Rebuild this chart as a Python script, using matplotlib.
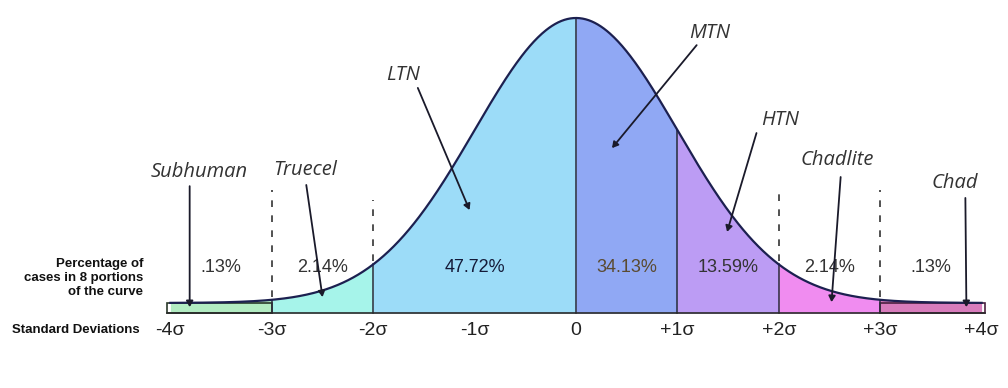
import numpy as np
import matplotlib
matplotlib.use("Agg")
import matplotlib.pyplot as plt
from matplotlib.patches import Rectangle

# ---- data ----
sd_ticks = [-4, -3, -2, -1, 0, 1, 2, 3, 4]
sd_labels = ["-4σ", "-3σ", "-2σ", "-1σ", "0", "+1σ", "+2σ", "+3σ", "+4σ"]
segments = [(-4, -3), (-3, -2), (-2, 0), (0, 1), (1, 2), (2, 3), (3, 4)]
seg_colors = ["#b2ecc2", "#a6f4ea", "#9cdcf8", "#90a8f4", "#bc9cf4", "#f08cf0", "#d87cbc"]
pct_x = [-3.5, -2.5, -1.0, 0.5, 1.5, 2.5, 3.5]
pct_labels = [".13%", "2.14%", "47.72%", "34.13%", "13.59%", "2.14%", ".13%"]
pct_colors = ["#333333", "#333333", "#141a38", "#5a4a30", "#333333", "#333333", "#333333"]
cat_names = ["Subhuman", "Truecel", "LTN", "MTN", "HTN", "Chadlite", "Chad"]
cat_text_xy = [(-3.72, 0.478), (-2.67, 0.485), (-1.71, 0.807), (1.32, 0.949),
               (2.01, 0.654), (2.58, 0.519), (3.74, 0.441)]
cat_arrow_from = [(-3.81, 0.43), (-2.66, 0.434), (-1.56, 0.763), (1.19, 0.908),
                  (1.78, 0.61), (2.61, 0.461), (3.84, 0.39)]
cat_arrow_to = [(-3.81, 0.02), (-2.50, 0.054), (-1.05, 0.349), (0.355, 0.559),
                (1.49, 0.275), (2.52, 0.037), (3.85, 0.02)]
dashed_x = [-3, -2, 2, 3]
dashed_top = [0.417, 0.383, 0.407, 0.417]

floor = 0.034  # tail band height


def h(x):
    return floor + (1 - floor) * np.exp(-np.asarray(x) ** 2 / 2)


fig = plt.figure(figsize=(10.08, 3.88), dpi=100)
ax = fig.add_axes([0, 0, 1, 1])
ax.set_xlim((0 - 576) / 101.4, (1008 - 576) / 101.4)
ax.set_ylim(-(388 - 313) / 295, 313 / 295)
ax.axis("off")

# fills
for (a, b), c in zip(segments, seg_colors):
    xs = np.linspace(a, b, 200)
    ax.fill_between(xs, 0, h(xs), color=c, lw=0, zorder=1)

# tail strips outlines
ax.add_patch(Rectangle((-4.03, 0), 1.03, floor, fill=False, ec="#2a3a2a", lw=1.2, zorder=3))
ax.add_patch(Rectangle((3, 0), 1.03, floor, fill=False, ec="#4a2040", lw=1.2, zorder=3))

# curve
xs = np.linspace(-4, 4, 800)
ax.plot(xs, h(xs), color="#1c2050", lw=1.6, zorder=4)

# baseline
ax.plot([-4.03, 4.03], [0, 0], color="#2a2a2a", lw=1.2, zorder=4)

# solid verticals
for xv in [-3, -2, 0, 1, 2, 3]:
    ax.plot([xv, xv], [0, h(xv)], color="#2a2a3a", lw=1.1, zorder=3)

# dashed verticals
for xv, yt in zip(dashed_x, dashed_top):
    ax.plot([xv, xv], [h(xv) + 0.01, yt], color="#333333", lw=1.2,
            ls=(0, (4, 5)), zorder=3)

# percentages
for x, t, c in zip(pct_x, pct_labels, pct_colors):
    ax.text(x, 0.153, t, ha="center", va="center", fontsize=13,
            family="Liberation Sans", color=c, zorder=5)

# tick labels
for x, t in zip(sd_ticks, sd_labels):
    ax.text(x, -0.058, t, ha="center", va="center", fontsize=14,
            family="Liberation Sans", color="#222222")

ax.text(-4.30, -0.058, "Standard Deviations", ha="right", va="center",
        fontsize=9.5, family="Liberation Sans", color="#111111", weight="bold")
ax.text(-4.27, 0.118, "Percentage of\ncases in 8 portions\nof the curve",
        ha="right", va="center", fontsize=9.5, family="Liberation Sans",
        color="#111111", weight="bold", linespacing=1.25)

# category labels and arrows
for name, (tx, ty), (fx, fy), (ex, ey) in zip(cat_names, cat_text_xy,
                                               cat_arrow_from, cat_arrow_to):
    ax.text(tx, ty, name, ha="center", va="center", fontsize=14.5,
            family="Open Sans", style="italic", color="#333333", zorder=6)
    ax.annotate("", xy=(ex, ey), xytext=(fx, fy),
                arrowprops=dict(arrowstyle="-|>,head_length=0.35,head_width=0.2",
                                color="#1a1a2a", lw=1.3, shrinkA=0, shrinkB=0),
                zorder=6)

fig.savefig("out.png", dpi=100)
